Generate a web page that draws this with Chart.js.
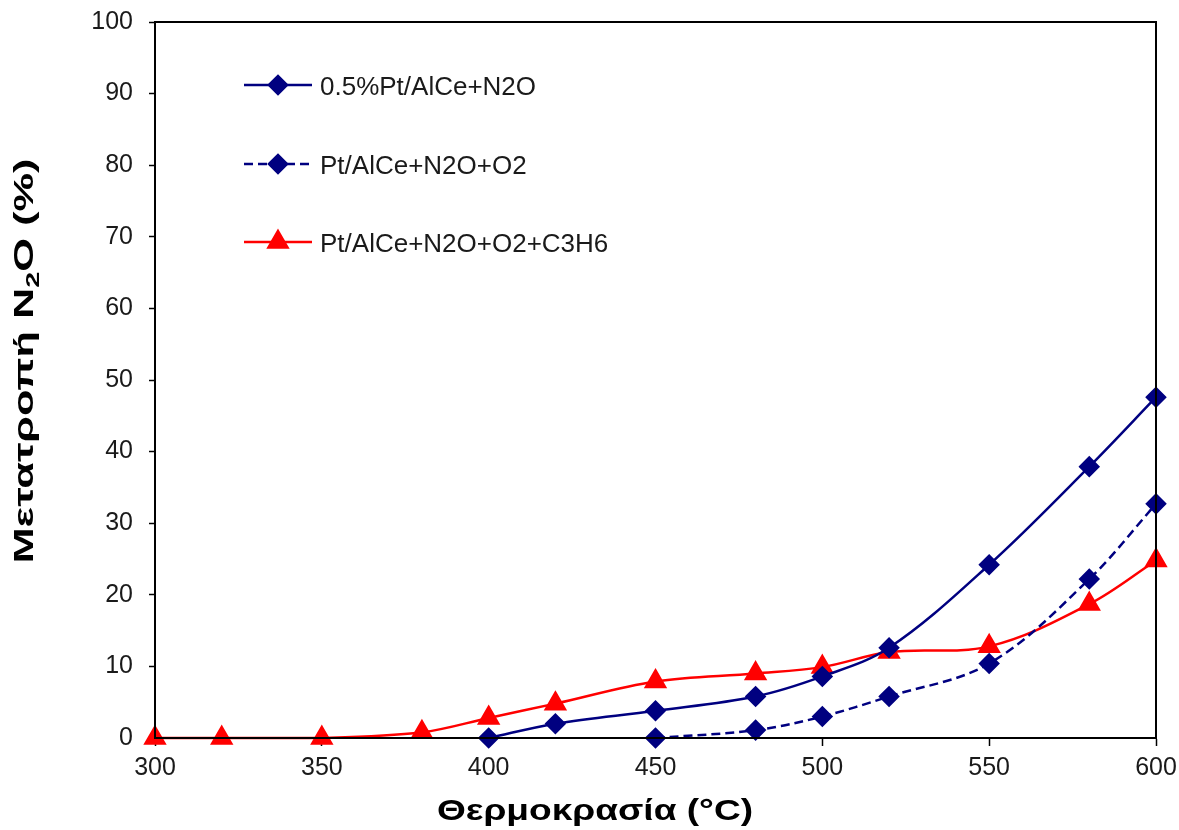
<!DOCTYPE html>
<html>
<head>
<meta charset="utf-8">
<title>Μετατροπή N2O</title>
<script src="https://cdn.jsdelivr.net/npm/chart.js@4.4.1/dist/chart.umd.min.js"></script>
<style>
    body { margin: 0; background: #fff; }
    #wrap { width: 1179px; height: 830px; }
</style>
</head>
<body>
<div id="wrap"><canvas id="grapN2O" width="1179" height="830"></canvas></div>
<script>
// datos
const temps1 = [400, 420, 450, 480, 500, 520, 550, 580, 600];
const conv1 = [0, 2, 3.8, 5.8, 8.6, 12.6, 24.2, 37.9, 47.6];

const temps2 = [450, 480, 500, 520, 550, 580, 600];
const conv2 = [0, 1.1, 3, 5.8, 10.4, 22.2, 32.7];

const temps3 = [300, 320, 350, 380, 400, 420, 450, 480, 500, 520, 550, 580, 600];
const conv3 = [0, 0, 0, 0.8, 2.8, 4.8, 7.9, 9, 9.9, 12, 12.8, 18.7, 24.8];

const nombres = ["0.5%Pt/AlCe+N2O", "Pt/AlCe+N2O+O2", "Pt/AlCe+N2O+O2+C3H6"];
const tituloX = "Θερμοκρασία (°C)";
const tituloY = ["Μετατροπή N", "2", "O (%)"]; // con subindice

const azul = "#000080";
const rojo = "#FF0000";
const fuente = "'Liberation Sans', Arial, sans-serif";

// junta x,y en puntos
function puntos(xs, ys) {
    var p = [];
    for (var i = 0; i < xs.length; i++) {
        p.push({ x: xs[i], y: ys[i] });
    }
    return p;
}

// marco completo alrededor del area
const marcoPlugin = {
    id: 'marco',
    afterDraw(chart) {
        const a = chart.chartArea;
        const ctx = chart.ctx;
        ctx.save();
        ctx.strokeStyle = "#000";
        ctx.lineWidth = 2;
        ctx.strokeRect(a.left, a.top, a.right - a.left, a.bottom - a.top);
        ctx.restore();
    }
};

// leyenda dentro del area (como en excel)
const leyendaPlugin = {
    id: 'leyenda',
    afterDraw(chart) {
        const ctx = chart.ctx;
        const filas = [85, 164, 242];
        ctx.save();
        chart.data.datasets.forEach(function(ds, i) {
            var y = filas[i];
            ctx.strokeStyle = ds.borderColor;
            ctx.lineWidth = ds.borderWidth;
            ctx.setLineDash(ds.borderDash || []);
            ctx.beginPath();
            ctx.moveTo(244, y);
            ctx.lineTo(312, y);
            ctx.stroke();
            ctx.setLineDash([]);
            Chart.helpers.drawPoint(ctx, {
                pointStyle: ds.pointStyle,
                radius: ds.pointRadius,
                borderWidth: 1
            }, 278, y);
            ctx.fillStyle = ds.pointBackgroundColor;
            ctx.fill();
            ctx.fillStyle = "#1a1a1a";
            ctx.font = "26px " + fuente;
            ctx.textBaseline = "alphabetic";
            ctx.fillText(ds.label, 320, y + 10);
        });
        ctx.restore();
    }
};

// titulos de ejes (texto estirado como en el original)
const titulosPlugin = {
    id: 'titulos',
    afterDraw(chart) {
        const ctx = chart.ctx;
        ctx.save();
        ctx.fillStyle = "#000";
        ctx.textBaseline = "alphabetic";
        // eje X
        ctx.font = "bold 30px " + fuente;
        var wx = ctx.measureText(tituloX).width;
        ctx.save();
        ctx.translate(595, 820);
        ctx.scale(316 / wx, 1);
        ctx.textAlign = "center";
        ctx.fillText(tituloX, 0, 0);
        ctx.restore();
        // eje Y con N2O subindice
        var tam = [27, 18, 27];
        var dy = [0, 6, 0];
        var anchos = [];
        var total = 0;
        for (var i = 0; i < tituloY.length; i++) {
            ctx.font = "bold " + tam[i] + "px " + fuente;
            anchos[i] = ctx.measureText(tituloY[i]).width;
            total += anchos[i];
        }
        ctx.translate(33, 361);
        ctx.rotate(-Math.PI / 2);
        ctx.scale(405 / total, 1);
        ctx.textAlign = "left";
        var xx = -total / 2;
        for (var j = 0; j < tituloY.length; j++) {
            ctx.font = "bold " + tam[j] + "px " + fuente;
            ctx.fillText(tituloY[j], xx, dy[j]);
            xx += anchos[j];
        }
        ctx.restore();
    }
};

const ctxN2O = document.getElementById('grapN2O').getContext('2d');
let config_N2O = {
    type: 'line',
    data: {
        datasets: [{
            label: nombres[0],
            data: puntos(temps1, conv1),
            borderColor: azul,
            borderWidth: 2.5,
            pointStyle: 'rectRot',
            pointRadius: 9,
            pointBackgroundColor: azul,
            pointBorderColor: azul,
            tension: 0.35,
            clip: false
        }, {
            label: nombres[1],
            data: puntos(temps2, conv2),
            borderColor: azul,
            borderWidth: 2.5,
            borderDash: [9, 5],
            pointStyle: 'rectRot',
            pointRadius: 9,
            pointBackgroundColor: azul,
            pointBorderColor: azul,
            tension: 0.35,
            clip: false
        }, {
            label: nombres[2],
            data: puntos(temps3, conv3),
            borderColor: rojo,
            borderWidth: 2.5,
            pointStyle: 'triangle',
            pointRadius: 11,
            pointBackgroundColor: rojo,
            pointBorderColor: rojo,
            tension: 0.35,
            clip: false
        }]
    },
    options: {
        responsive: false,
        animation: false,
        layout: {
            padding: { top: 22, right: 23, left: 0, bottom: 0 }
        },
        scales: {
            x: {
                type: 'linear',
                min: 300,
                max: 600,
                afterFit: function(s) {
                    s.height = 92;
                    s.paddingLeft = 0;
                    s.paddingRight = 0;
                },
                grid: {
                    drawOnChartArea: false,
                    drawTicks: true,
                    tickLength: 8,
                    tickWidth: 1.5,
                    color: "#000"
                },
                border: { display: true, color: "#000", width: 2 },
                ticks: {
                    stepSize: 50,
                    padding: 7,
                    color: "#1a1a1a",
                    font: { size: 25, family: fuente }
                },
                title: { display: false }
            },
            y: {
                min: 0,
                max: 100,
                afterFit: function(s) {
                    s.width = 155;
                    s.paddingTop = 0;
                    s.paddingBottom = 0;
                },
                grid: {
                    drawOnChartArea: false,
                    drawTicks: true,
                    tickLength: 6,
                    tickWidth: 1.5,
                    color: "#000"
                },
                border: { display: true, color: "#000", width: 2 },
                ticks: {
                    stepSize: 10,
                    padding: 16,
                    color: "#1a1a1a",
                    font: { size: 25, family: fuente }
                },
                title: { display: false }
            }
        },
        plugins: {
            legend: { display: false },
            tooltip: { enabled: false }
        }
    },
    plugins: [marcoPlugin, leyendaPlugin, titulosPlugin]
};
const grapN2OChart = new Chart(ctxN2O, config_N2O);
</script>
</body>
</html>
